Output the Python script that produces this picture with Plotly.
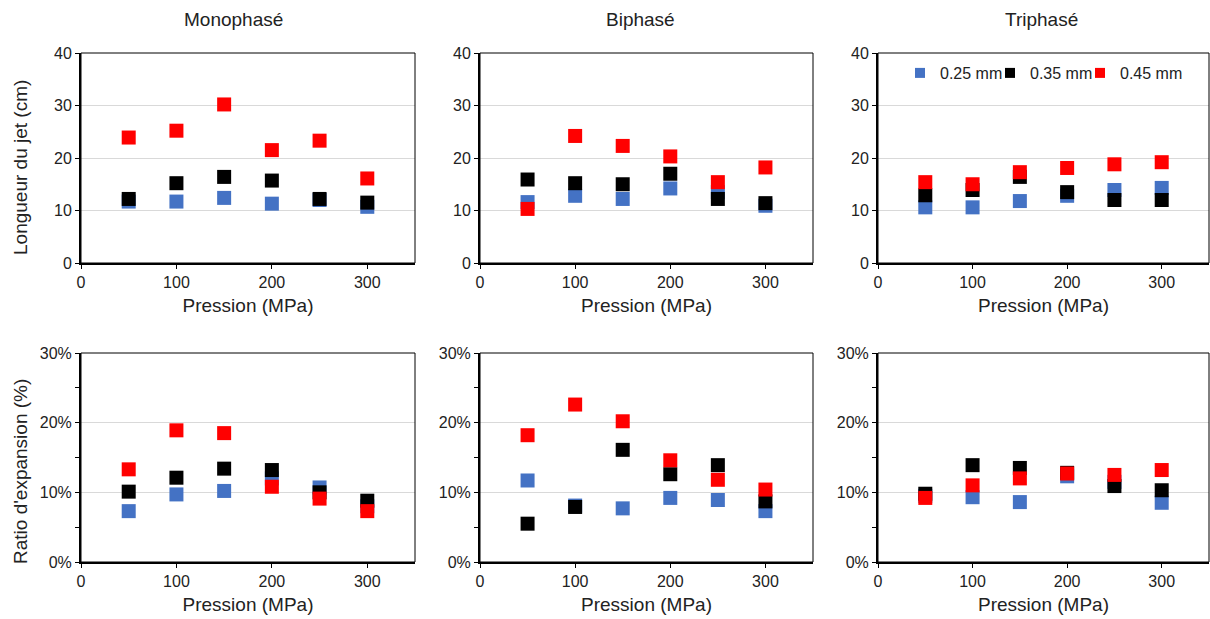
import plotly.graph_objects as go

W, H = 1210, 619

pressure = [50, 100, 150, 200, 250, 300]
series_names = ["0.25 mm", "0.35 mm", "0.45 mm"]
series_colors = ["#4472C4", "#000000", "#FF0000"]
column_titles = ["Monophasé", "Biphasé", "Triphasé"]
row_titles = ["Longueur du jet (cm)", "Ratio d'expansion (%)"]

# Longueur du jet (cm)
len_mono_025 = [11.7, 11.7, 12.4, 11.3, 12.0, 10.7]
len_mono_035 = [12.2, 15.2, 16.4, 15.7, 12.2, 11.5]
len_mono_045 = [23.9, 25.2, 30.2, 21.5, 23.3, 16.1]
len_bi_025 = [11.6, 12.8, 12.2, 14.2, 13.5, 10.9]
len_bi_035 = [15.9, 15.2, 15.0, 17.0, 12.2, 11.4]
len_bi_045 = [10.3, 24.2, 22.3, 20.3, 15.4, 18.2]
len_tri_025 = [10.6, 10.6, 11.8, 12.8, 13.9, 14.3]
len_tri_035 = [12.9, 13.9, 16.4, 13.5, 12.0, 12.0]
len_tri_045 = [15.4, 15.0, 17.3, 18.1, 18.8, 19.2]

# Ratio d'expansion (%)
rat_mono_025 = [7.3, 9.7, 10.2, 12.0, 10.7, 8.0]
rat_mono_035 = [10.1, 12.1, 13.4, 13.2, 10.0, 8.8]
rat_mono_045 = [13.3, 18.9, 18.5, 10.8, 9.1, 7.3]
rat_bi_025 = [11.7, 8.1, 7.7, 9.2, 8.9, 7.3]
rat_bi_035 = [5.5, 7.9, 16.1, 12.6, 13.9, 8.7]
rat_bi_045 = [18.2, 22.6, 20.2, 14.6, 11.8, 10.4]
rat_tri_025 = [9.5, 9.3, 8.6, 12.3, 11.5, 8.5]
rat_tri_035 = [9.8, 13.9, 13.5, 12.8, 10.9, 10.3]
rat_tri_045 = [9.2, 11.0, 12.0, 12.7, 12.5, 13.2]

panels = [
    [len_mono_025, len_mono_035, len_mono_045],
    [len_bi_025, len_bi_035, len_bi_045],
    [len_tri_025, len_tri_035, len_tri_045],
    [rat_mono_025, rat_mono_035, rat_mono_045],
    [rat_bi_025, rat_bi_035, rat_bi_045],
    [rat_tri_025, rat_tri_035, rat_tri_045],
]

FONT = "Liberation Sans, Arial, sans-serif"
col_px = [(81, 415), (480, 813), (878, 1209)]
row_px = [(53, 263), (353, 562)]

fig = go.Figure()
for i, data in enumerate(panels):
    r, c = divmod(i, 3)
    n = i + 1
    xa = "x" if n == 1 else f"x{n}"
    ya = "y" if n == 1 else f"y{n}"
    for s, vals in enumerate(data):
        fig.add_trace(go.Scatter(
            x=pressure, y=vals, mode="markers", xaxis=xa, yaxis=ya,
            marker=dict(symbol="square", size=14, color=series_colors[s],
                        line=dict(width=0)),
            name=series_names[s], showlegend=False, hoverinfo="x+y"))
    x0, x1 = col_px[c]
    y0, y1 = row_px[r]
    xkey = "xaxis" if n == 1 else f"xaxis{n}"
    ykey = "yaxis" if n == 1 else f"yaxis{n}"
    xaxis = dict(domain=[x0 / W, x1 / W], anchor=ya, range=[0, 350],
                 tickvals=[0, 100, 200, 300], ticks="outside", ticklen=4,
                 tickcolor="black", showgrid=False, zeroline=False,
                 showline=True, linecolor="black", linewidth=2,
                 automargin=False,
                 tickfont=dict(family=FONT, size=16, color="#222"),
                 title=dict(text="Pression (MPa)", standoff=8,
                            font=dict(family=FONT, size=19, color="#222")))
    yaxis = dict(domain=[(H - y1) / H, (H - y0) / H], anchor=xa,
                 ticks="outside", ticklen=4, tickcolor="black",
                 showgrid=True, gridcolor="#d9d9d9", gridwidth=1,
                 zeroline=False, showline=True, linecolor="black", linewidth=2,
                 automargin=False,
                 tickfont=dict(family=FONT, size=16, color="#222"))
    if r == 0:
        yaxis.update(range=[0, 40], dtick=10)
    else:
        yaxis.update(range=[0, 30], dtick=10, ticksuffix="%",
                     minor=dict(dtick=5, ticks="outside", ticklen=4,
                                tickcolor="black", showgrid=False))
    fig.update_layout({xkey: xaxis, ykey: yaxis})
    fig.add_shape(type="rect", xref=f"{xa} domain", yref=f"{ya} domain",
                  x0=0, x1=1, y0=0, y1=1, line=dict(color="black", width=1),
                  layer="above")

# row (y axis) titles
for r, t in enumerate(row_titles):
    cy = [168, 472][r]
    fig.add_annotation(text=t, x=21 / W, y=(H - cy) / H, xref="paper",
                       yref="paper", xanchor="center", yanchor="middle",
                       textangle=-90, showarrow=False,
                       font=dict(family=FONT, size=19, color="#222"))

# legend entries (one small legend per series, placed in the Triphasé panel)
legend_keys = ["legend", "legend2", "legend3"]
legend_x_px = [900, 990, 1080]
for s in range(3):
    fig.add_trace(go.Scatter(
        x=[None], y=[None], mode="markers", xaxis="x3", yaxis="y3",
        marker=dict(symbol="square", size=10, color=series_colors[s]),
        name=series_names[s], showlegend=True, legend=legend_keys[s]))
    fig.update_layout({legend_keys[s]: dict(
        orientation="h", x=legend_x_px[s] / W, y=(H - 73) / H,
        xanchor="left", yanchor="middle", bgcolor="rgba(0,0,0,0)",
        font=dict(family=FONT, size=16, color="#222"), itemwidth=30)})

for c, t in enumerate(column_titles):
    cx = [233, 640, 1041][c]
    fig.add_annotation(text=t, x=cx / W, y=(H - 20) / H, xref="paper",
                       yref="paper", xanchor="center", yanchor="middle",
                       showarrow=False,
                       font=dict(family=FONT, size=19, color="#222"))

fig.update_layout(
    width=W, height=H, margin=dict(l=0, r=0, t=0, b=0),
    paper_bgcolor="white", plot_bgcolor="white",
    font=dict(family=FONT, color="#222"),
)

fig.write_html("out.html", config={"displayModeBar": False},
               post_script="document.body.style.margin='0px';"
                           "document.body.style.overflow='hidden';")
